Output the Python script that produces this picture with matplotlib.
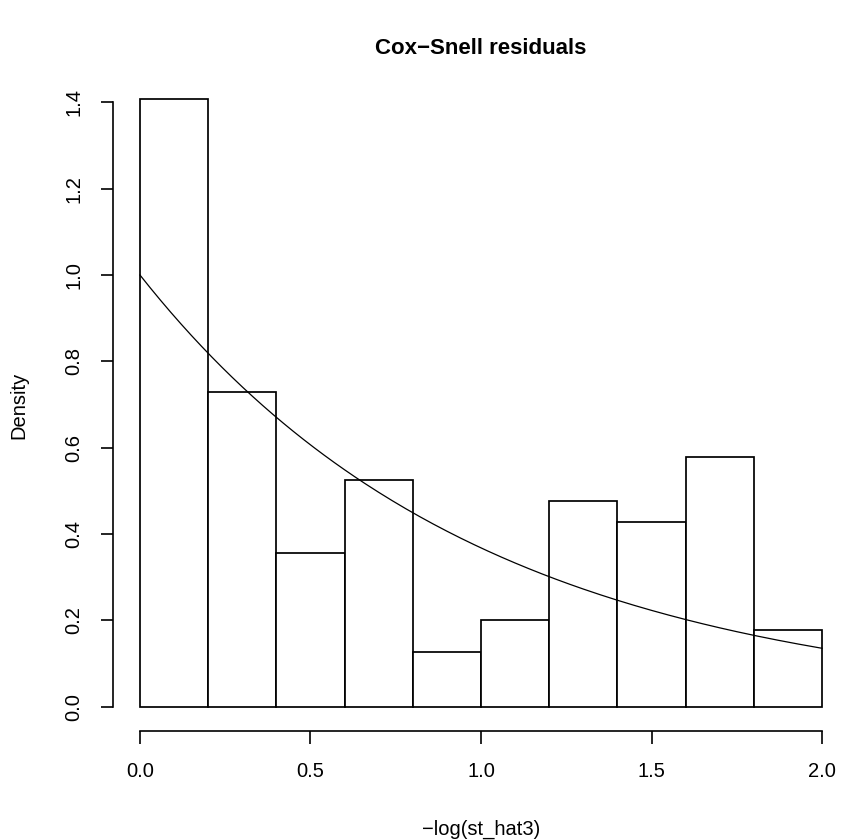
import matplotlib
matplotlib.use("Agg")
import matplotlib.pyplot as plt
import numpy as np

# histogram of the Cox-Snell residuals
breaks = [0.0, 0.2, 0.4, 0.6, 0.8, 1.0, 1.2, 1.4, 1.6, 1.8, 2.0]
density = [1.408, 0.729, 0.355, 0.526, 0.127, 0.201, 0.476, 0.427, 0.578, 0.177]

x_ticks = [0.0, 0.5, 1.0, 1.5, 2.0]
x_ticklabels = ["0.0", "0.5", "1.0", "1.5", "2.0"]
y_ticks = [0.0, 0.2, 0.4, 0.6, 0.8, 1.0, 1.2, 1.4]
y_ticklabels = ["0.0", "0.2", "0.4", "0.6", "0.8", "1.0", "1.2", "1.4"]

# reference curve: unit exponential density, dexp(x, rate = 1)
rate = 1.0

plt.rcParams["font.family"] = ["Liberation Sans", "DejaVu Sans"]

W, H = 841, 840
fig = plt.figure(figsize=(W / 100, H / 100), dpi=100)

# plot region in pixels (R usr extends 4% past the data range)
left_px, right_px = 112.7, 849.3
top_px, bottom_px = 74.6, 731.0
ax = fig.add_axes([left_px / W, 1 - bottom_px / H,
                   (right_px - left_px) / W, (bottom_px - top_px) / H])

lefts = np.array(breaks[:-1])
widths = np.diff(breaks)
ax.bar(lefts, density, width=widths, align="edge", facecolor="white",
       edgecolor="black", linewidth=1.25)

xs = np.linspace(breaks[0], breaks[-1], 201)
ax.plot(xs, rate * np.exp(-rate * xs), color="black", lw=0.9)

ymax = max(density)
ax.set_xlim(-0.04 * 2.0, 2.0 * 1.04)
ax.set_ylim(-0.04 * ymax, ymax * 1.04)

for s in ("top", "right"):
    ax.spines[s].set_visible(False)
ax.spines["left"].set_bounds(y_ticks[0], y_ticks[-1])
ax.spines["bottom"].set_bounds(x_ticks[0], x_ticks[-1])
ax.spines["left"].set_linewidth(1.2)
ax.spines["bottom"].set_linewidth(1.2)

ax.set_xticks(x_ticks)
ax.set_xticklabels(x_ticklabels)
ax.set_yticks(y_ticks)
ax.set_yticklabels(y_ticklabels, rotation=90, va="center")
ax.tick_params(axis="both", direction="out", length=9, width=1.2,
               labelsize=14.5, colors="black")
ax.tick_params(axis="x", pad=13)
ax.tick_params(axis="y", pad=12)

fig.text(481 / W, 1 - 48 / H, "Cox\u2212Snell residuals", ha="center",
         va="center", fontsize=16, fontweight="bold")
fig.text(481 / W, 1 - 829 / H, "\u2212log(st_hat3)", ha="center",
         va="center", fontsize=14.5)
fig.text(19 / W, 1 - 405 / H, "Density", ha="center", va="center",
         rotation=90, fontsize=14.5)

fig.savefig("out.png", dpi=100)
